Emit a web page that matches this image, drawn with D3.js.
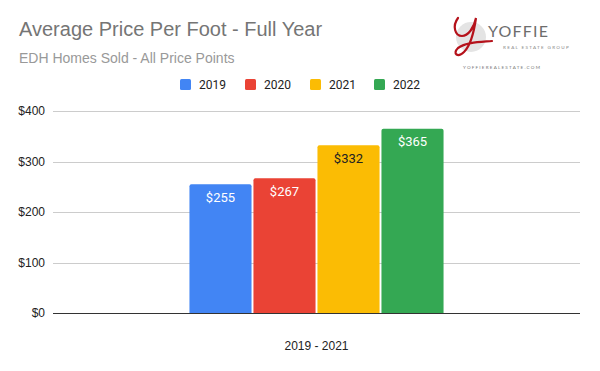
<!DOCTYPE html>
<html>
<head>
<meta charset="utf-8">
<script src="https://cdn.jsdelivr.net/npm/d3@7"></script>
<style>
  body { margin: 0; background: #fff; }
  svg { display: block; font-family: Roboto, Arial, sans-serif; }
</style>
</head>
<body>
<div id="chart"></div>
<script>
// ── Data ──
const categories = ["2019 - 2021"];
const seriesNames = ["2019", "2020", "2021", "2022"];
const seriesValues = [255, 267, 332, 365];
const seriesColors = ["#4285f4", "#ea4335", "#fbbc04", "#34a853"];
const labelColors = ["#fff", "#fff", "#222", "#fff"];
const yTicks = [0, 100, 200, 300, 400];

const WIDTH = 600;
const HEIGHT = 371;
const margin = { top: 111, right: 20, bottom: 58, left: 53 };

const svg = d3.select("#chart").append("svg")
    .attr("width", WIDTH)
    .attr("height", HEIGHT);

svg.append("rect").attr("width", WIDTH).attr("height", HEIGHT).attr("fill", "#fff");

// ── Titles ──
svg.append("text")
    .attr("x", 19).attr("y", 36)
    .attr("font-family", "Liberation Sans, Arial, sans-serif")
    .attr("font-size", 20)
    .attr("fill", "#757575")
    .text("Average Price Per Foot - Full Year");

svg.append("text")
    .attr("x", 19).attr("y", 63)
    .attr("font-family", "Liberation Sans, Arial, sans-serif")
    .attr("font-size", 14)
    .attr("fill", "#999")
    .text("EDH Homes Sold - All Price Points");

// ── Scales ──
const innerW = WIDTH - margin.left - margin.right;
const innerH = HEIGHT - margin.top - margin.bottom;

const x0 = d3.scaleBand()
    .domain(categories)
    .range([margin.left, margin.left + innerW])
    .paddingInner(0)
    .paddingOuter(0.537);

const x1 = d3.scaleBand()
    .domain(seriesNames)
    .range([0, x0.bandwidth()])
    .paddingInner(0.03);

const y = d3.scaleLinear()
    .domain([0, 400])
    .range([margin.top + innerH, margin.top]);

// ── Gridlines & y labels ──
const grid = svg.append("g");
grid.selectAll("line")
    .data(yTicks)
    .join("line")
    .attr("x1", margin.left).attr("x2", margin.left + innerW)
    .attr("y1", d => Math.round(y(d)) + 0.5)
    .attr("y2", d => Math.round(y(d)) + 0.5)
    .attr("stroke", d => d === 0 ? "#333" : "#ccc")
    .attr("stroke-width", 1);

grid.selectAll("text")
    .data(yTicks)
    .join("text")
    .attr("x", margin.left - 8)
    .attr("y", d => y(d) + 4)
    .attr("text-anchor", "end")
    .attr("font-family", "Liberation Sans, Arial, sans-serif")
    .attr("font-size", 12)
    .attr("fill", "#222")
    .text(d => "$" + d);

// ── Bars ──
const groups = svg.append("g")
    .selectAll("g")
    .data(categories)
    .join("g")
    .attr("transform", d => `translate(${x0(d)},0)`);

const barData = seriesNames.map((name, i) => ({ name, value: seriesValues[i], i }));

groups.selectAll("path")
    .data(barData)
    .join("path")
    .attr("fill", d => seriesColors[d.i])
    .attr("d", d => {
        const bx = x1(d.name), bw = x1.bandwidth();
        const top = y(d.value), bot = y(0), r = 2;
        return `M${bx},${bot}V${top + r}Q${bx},${top} ${bx + r},${top}H${bx + bw - r}Q${bx + bw},${top} ${bx + bw},${top + r}V${bot}Z`;
    });

groups.selectAll("text")
    .data(barData)
    .join("text")
    .attr("x", d => x1(d.name) + x1.bandwidth() / 2)
    .attr("y", d => y(d.value) + 17.5)
    .attr("text-anchor", "middle")
    .attr("font-size", 13)
    .attr("fill", d => labelColors[d.i])
    .text(d => "$" + d.value);

// ── X axis label ──
svg.append("text")
    .attr("x", x0(categories[0]) + x0.bandwidth() / 2)
    .attr("y", 350)
    .attr("text-anchor", "middle")
    .attr("font-family", "Liberation Sans, Arial, sans-serif")
    .attr("font-size", 12)
    .attr("fill", "#222")
    .text(categories[0]);

// ── Legend ──
const legendX = [180, 245, 310, 374];
const legend = svg.append("g")
    .selectAll("g")
    .data(seriesNames)
    .join("g")
    .attr("transform", (d, i) => `translate(${legendX[i]},79)`);

legend.append("rect")
    .attr("width", 11).attr("height", 11).attr("rx", 1.5)
    .attr("fill", (d, i) => seriesColors[i]);

legend.append("text")
    .attr("x", 19).attr("y", 10)
    .attr("font-size", 12)
    .attr("fill", "#222")
    .text(d => d);

// ── Logo ──
const logo = svg.append("g");
logo.append("circle").attr("cx", 471).attr("cy", 37).attr("r", 15).attr("fill", "#e4e4e4");
logo.append("path")
    .attr("d", "M458,18 C452,26 455,36 462,36 C468,36 474,28 476,18 C474,32 470,46 464,52 C458,58 452,54 458,48 C466,42 480,42 492,41")
    .attr("fill", "none")
    .attr("stroke", "#b5121b")
    .attr("stroke-width", 2.2)
    .attr("stroke-linecap", "round");
logo.append("text")
    .attr("x", 488).attr("y", 37)
    .attr("font-family", "Lato, sans-serif")
    .attr("font-size", 16)
    .attr("letter-spacing", 1.2)
    .attr("fill", "#6d6d6d")
    .text("YOFFIE");
logo.append("text")
    .attr("x", 503).attr("y", 49)
    .attr("font-family", "Lato, sans-serif")
    .attr("font-size", 4.6)
    .attr("letter-spacing", 1.3)
    .attr("fill", "#888")
    .text("REAL ESTATE GROUP");
logo.append("text")
    .attr("x", 463).attr("y", 69)
    .attr("font-family", "Lato, sans-serif")
    .attr("font-size", 4.6)
    .attr("letter-spacing", 1.2)
    .attr("fill", "#777")
    .text("YOFFIEREALESTATE.COM");
</script>
</body>
</html>
